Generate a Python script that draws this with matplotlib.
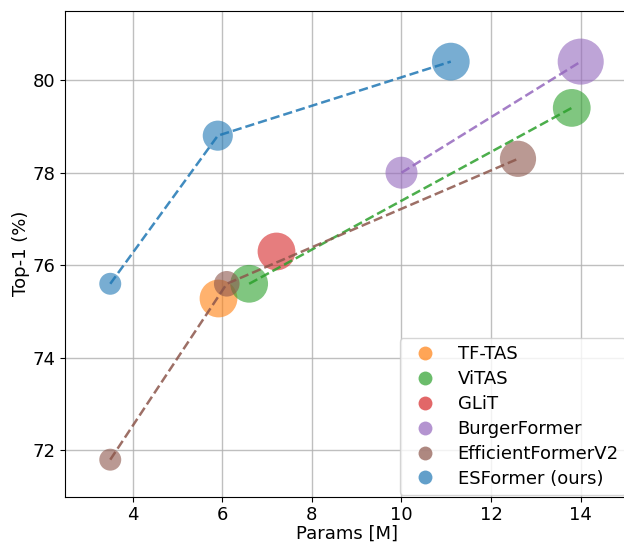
import matplotlib
matplotlib.use('Agg')
import matplotlib.pyplot as plt
from matplotlib.lines import Line2D

plt.rcParams['font.family'] = ['DejaVu Sans']

# 各模型：参数量 (M)、Top-1 (%)、气泡大小
names = ['TF-TAS', 'ViTAS', 'GLiT', 'BurgerFormer', 'EfficientFormerV2', 'ESFormer (ours)']
colors = ['tab:orange', 'tab:green', 'tab:red', 'tab:purple', 'tab:brown', 'tab:blue']

tftas_params = [5.9]
tftas_top1 = [75.3]
tftas_size = [740]

vitas_params = [6.6, 13.8]
vitas_top1 = [75.6, 79.4]
vitas_size = [740, 740]

glit_params = [7.2]
glit_top1 = [76.3]
glit_size = [740]

burger_params = [10.0, 14.0]
burger_top1 = [78.0, 80.4]
burger_size = [530, 1100]

effv2_params = [3.5, 6.1, 12.6]
effv2_top1 = [71.8, 75.6, 78.3]
effv2_size = [250, 340, 680]

esformer_params = [3.5, 5.9, 11.1]
esformer_top1 = [75.6, 78.8, 80.4]
esformer_size = [250, 470, 740]

series = [
    (tftas_params, tftas_top1, tftas_size),
    (vitas_params, vitas_top1, vitas_size),
    (glit_params, glit_top1, glit_size),
    (burger_params, burger_top1, burger_size),
    (effv2_params, effv2_top1, effv2_size),
    (esformer_params, esformer_top1, esformer_size),
]

fig = plt.figure(figsize=(6.24, 5.42), dpi=100)
ax = fig.add_axes([65 / 624, 45.3 / 542, 565 / 624, 486 / 542])

for (px, py, ps), c in zip(series, colors):
    ax.scatter(px, py, s=ps, color=c, alpha=0.6, linewidths=0, zorder=3)
    if len(px) > 1:
        ax.plot(px, py, ls='--', color=c, lw=1.8, alpha=0.85, zorder=4)

ax.set_xlim(2.49, 15.1)
ax.set_ylim(71.0, 81.5)
ax.set_xticks([4, 6, 8, 10, 12, 14])
ax.set_yticks([72, 74, 76, 78, 80])
ax.tick_params(labelsize=13)
ax.grid(True, color='#b0b0b0', lw=1, alpha=0.8, zorder=0)
ax.set_axisbelow(True)
ax.set_xlabel('Params [M]', fontsize=13, labelpad=0)
ax.set_ylabel('Top-1 (%)', fontsize=13, labelpad=1.5)

handles = [Line2D([], [], marker='o', ls='', color=c, alpha=0.7, markersize=10,
                  markeredgewidth=0) for c in colors]
ax.legend(handles, names, loc='lower right', fontsize=13, labelspacing=0.38,
          bbox_to_anchor=(626 / 624, 47 / 542), bbox_transform=fig.transFigure,
          borderaxespad=0)

fig.savefig('out.png', dpi=100)
